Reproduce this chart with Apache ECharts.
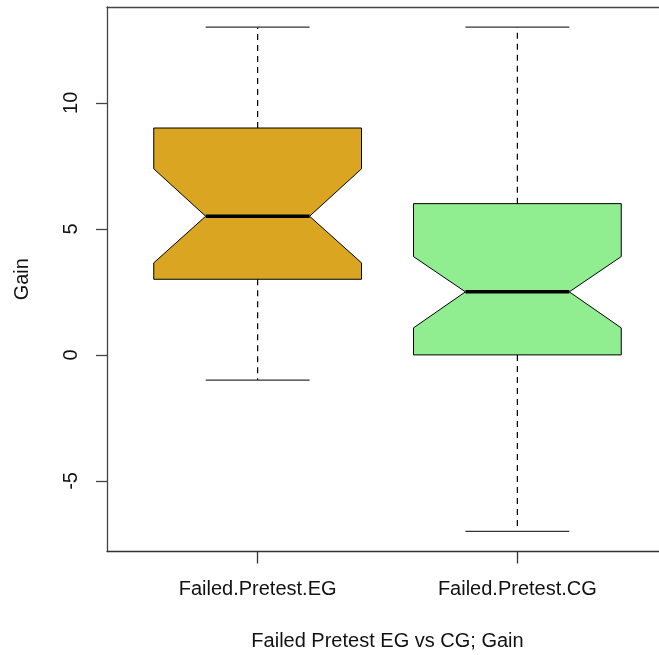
<!DOCTYPE html>
<html>
<head>
<meta charset="utf-8">
<script src="https://cdn.jsdelivr.net/npm/echarts@6/dist/echarts.min.js"></script>
<style>html,body{margin:0;padding:0;background:#fff;}#c{width:659px;height:655px;}</style>
</head>
<body>
<div id="c"></div>
<script>
// Data
var categories = ['Failed.Pretest.EG', 'Failed.Pretest.CG'];
var whiskerLow  = [-1, -7];
var q1          = [3, 0];
var notchLow    = [3.65, 1.07];
var median      = [5.5, 2.5];
var notchHigh   = [7.38, 3.9];
var q3          = [9, 6];
var whiskerHigh = [13, 13];
var fillColors  = ['#DAA520', '#90EE90'];
var yTicks      = [-5, 0, 5, 10];
var xTitle = 'Failed Pretest EG vs CG; Gain';
var yTitle = 'Gain';

var boxData = categories.map(function (c, i) {
  return [i + 1, whiskerLow[i], q1[i], notchLow[i], median[i], notchHigh[i], q3[i], whiskerHigh[i]];
});

var boxWidth = 0.8;
var chart = echarts.init(document.getElementById('c'), null, {renderer: 'canvas'});

function renderItem(params, api) {
  var x = api.value(0);
  var hw = boxWidth / 2;
  var nw = hw / 2;
  function P(dx, v) { return api.coord([x + dx, v]); }
  var lw = api.value(1), b1 = api.value(2), nl = api.value(3), md = api.value(4),
      nh = api.value(5), b3 = api.value(6), hwv = api.value(7);
  var idx = params.dataIndex;
  var poly = [P(-hw, b1), P(-hw, nl), P(-nw, md), P(-hw, nh), P(-hw, b3),
              P(hw, b3), P(hw, nh), P(nw, md), P(hw, nl), P(hw, b1)];
  var children = [
    {type: 'line', shape: {x1: P(0, b3)[0], y1: P(0, b3)[1], x2: P(0, hwv)[0], y2: P(0, hwv)[1]},
     style: {stroke: '#000', lineWidth: 1.2, lineDash: [6, 5]}},
    {type: 'line', shape: {x1: P(0, b1)[0], y1: P(0, b1)[1], x2: P(0, lw)[0], y2: P(0, lw)[1]},
     style: {stroke: '#000', lineWidth: 1.2, lineDash: [6, 5]}},
    {type: 'line', shape: {x1: P(-nw, hwv)[0], y1: P(-nw, hwv)[1], x2: P(nw, hwv)[0], y2: P(nw, hwv)[1]},
     style: {stroke: '#333', lineWidth: 1.3}},
    {type: 'line', shape: {x1: P(-nw, lw)[0], y1: P(-nw, lw)[1], x2: P(nw, lw)[0], y2: P(nw, lw)[1]},
     style: {stroke: '#333', lineWidth: 1.3}},
    {type: 'polygon', shape: {points: poly},
     style: {fill: fillColors[idx], stroke: '#000', lineWidth: 1}},
    {type: 'line', shape: {x1: P(-nw, md)[0], y1: P(-nw, md)[1], x2: P(nw, md)[0], y2: P(nw, md)[1]},
     style: {stroke: '#000', lineWidth: 3.5}}
  ];
  return {type: 'group', children: children};
}

var font = 'Liberation Sans, Arial, sans-serif';
chart.setOption({
  animation: false,
  backgroundColor: '#fff',
  grid: {left: 107, top: 7, width: 561, height: 544.5, show: false, outerBoundsMode: 'none', containLabel: false},
  xAxis: [{
    type: 'value', min: 0.42, max: 2.58, position: 'bottom',
    splitLine: {show: false},
    axisLine: {show: true, onZero: false, lineStyle: {color: '#333', width: 1.3}},
    axisTick: {show: true, length: 12, customValues: [1, 2], lineStyle: {color: '#333', width: 1.3}},
    axisLabel: {customValues: [1, 2], margin: 28, fontSize: 20, fontFamily: font, color: '#111',
      formatter: function (v) { return categories[Math.round(v) - 1] || ''; }},
    name: xTitle, nameLocation: 'middle', nameGap: 80,
    nameTextStyle: {fontSize: 20, fontFamily: font, color: '#111'}
  }, {
    type: 'value', min: 0.42, max: 2.58, position: 'top',
    splitLine: {show: false},
    axisLine: {show: true, onZero: false, lineStyle: {color: '#444', width: 1.3}},
    axisTick: {show: false}, axisLabel: {show: false}
  }],
  yAxis: {
    type: 'value', min: -7.8, max: 13.8,
    splitLine: {show: false},
    axisLine: {show: true, lineStyle: {color: '#444', width: 1.3}},
    axisTick: {show: true, length: 11, customValues: yTicks, lineStyle: {color: '#444', width: 1.3}},
    axisLabel: {customValues: yTicks, rotate: 90, margin: 26, fontSize: 20, fontFamily: font, color: '#111'},
    name: yTitle, nameLocation: 'middle', nameGap: 75,
    nameTextStyle: {fontSize: 20, fontFamily: font, color: '#111'}
  },
  series: [{
    type: 'custom',
    renderItem: renderItem,
    encode: {x: 0, y: [1, 2, 3, 4, 5, 6, 7]},
    data: boxData,
    clip: false
  }]
});
</script>
</body>
</html>
